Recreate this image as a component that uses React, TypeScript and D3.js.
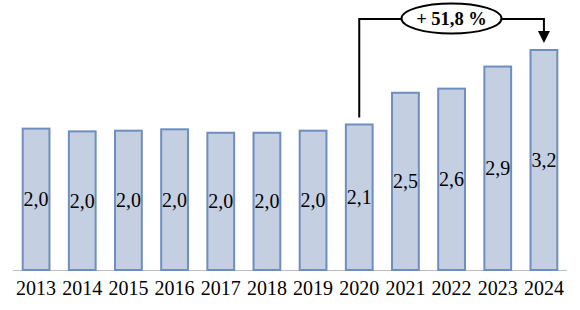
import React from "react";
import * as d3 from "d3";

const years = ["2013","2014","2015","2016","2017","2018","2019","2020","2021","2022","2023","2024"];
const values = [2.05, 2.01, 2.02, 2.04, 1.99, 1.99, 2.02, 2.11, 2.57, 2.63, 2.95, 3.19];
const labels = ["2,0","2,0","2,0","2,0","2,0","2,0","2,0","2,1","2,5","2,6","2,9","3,2"];
const growthLabel = "+ 51,8 %";
const fromYear = "2020";
const toYear = "2024";

export default function App() {
  const W = 580, H = 310;
  const base = 270;
  const x = d3.scaleBand().domain(years).range([13, 567]).paddingInner(0.42).paddingOuter(0.21);
  const y = d3.scaleLinear().domain([0, 3.19]).range([base, 50]);
  const font = "'Liberation Serif', 'DejaVu Serif', serif";
  const bw = x.bandwidth();
  const x1 = x(fromYear)! + bw / 2;
  const x2 = x(toYear)! + bw / 2;
  const hy = 19;
  const ecx = 451.5, ecy = 18.5, erx = 50, ery = 15;
  return (
    <svg width={W} height={H} style={{ position: "absolute", left: 0, top: 0 }}>
      <line x1={13} x2={567} y1={base + 0.5} y2={base + 0.5} stroke="#bfbfbf" strokeWidth={1} />
      {years.map((yr, i) => (
        <g key={yr}>
          <rect x={x(yr)!} y={y(values[i])} width={bw} height={base - y(values[i])}
            fill="#c5cfe2" stroke="#6d8ebf" strokeWidth={2} />
          <text x={x(yr)! + bw / 2} y={(y(values[i]) + base) / 2 + 7} textAnchor="middle"
            fontFamily={font} fontSize={20} fill="#000">{labels[i]}</text>
          <text x={x(yr)! + bw / 2} y={295} textAnchor="middle"
            fontFamily={font} fontSize={20} fill="#000">{yr}</text>
        </g>
      ))}
      <path d={`M${x1},${y(values[7]) - 7} V${hy} H${ecx - erx}`} fill="none" stroke="#000" strokeWidth={2} />
      <path d={`M${ecx + erx},${hy} H${x2} V${33}`} fill="none" stroke="#000" strokeWidth={2} />
      <path d={`M${x2 - 6},${31} L${x2 + 6},${31} L${x2},${43} Z`} fill="#000" />
      <ellipse cx={ecx} cy={ecy} rx={erx} ry={ery} fill="#fff" stroke="#000" strokeWidth={2} />
      <text x={ecx} y={ecy + 6.5} textAnchor="middle" fontFamily={font} fontSize={18.5} fontWeight="bold" fill="#000">{growthLabel}</text>
    </svg>
  );
}
